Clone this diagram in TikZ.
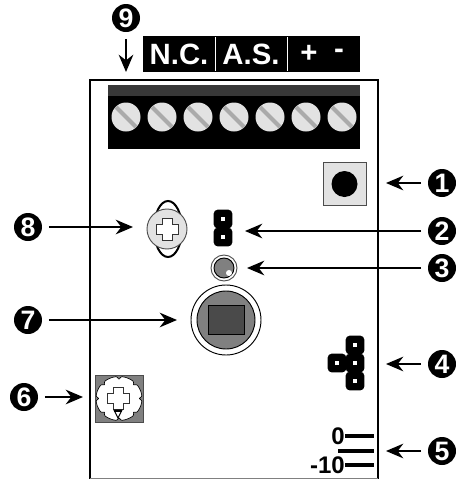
\documentclass[tikz,border=0pt]{standalone}
\usepackage{xcolor}
\usepackage{fontspec}
\setmainfont{Liberation Sans}
\usetikzlibrary{arrows.meta}
\definecolor{screwgray}{RGB}{226,226,226}
\definecolor{slotgray}{RGB}{170,170,170}
\definecolor{stripgray}{RGB}{56,56,56}
\definecolor{lensgray}{RGB}{128,128,128}
\definecolor{sensorgray}{RGB}{74,74,74}
\tikzset{
  badge/.style={circle,fill=black,text=white,inner sep=0pt,minimum size=21pt,font=\fontsize{20}{20}\selectfont\bfseries},
  tagtext/.style={text=white,inner sep=0pt,font=\fontsize{22}{22}\selectfont\bfseries},
  scaletext/.style={inner sep=0pt,anchor=east,font=\fontsize{18}{18}\selectfont\bfseries},
  pinblock/.style={fill=black,rounded corners=3pt,inner sep=0pt,minimum size=14pt},
  callout/.style={-{Stealth[length=13pt,width=11pt]},line width=1pt,shorten <=5pt},
  plusmark/.pic={\draw[fill=white,line width=0.7pt,draw=black!80]
    (-5,-11) -- (5,-11) -- (5,-5) -- (11,-5) -- (11,5) -- (5,5) -- (5,11)
    -- (-5,11) -- (-5,5) -- (-11,5) -- (-11,-5) -- (-5,-5) -- cycle;}
}
\newcommand{\pinmark}{\textcolor{white}{\rule{3pt}{3pt}}}

\begin{document}
\begin{tikzpicture}[x=0.75pt,y=-0.75pt]
    \useasboundingbox (0,0) rectangle (455,479);
    % board outline, open at the bottom of the picture
    \draw[line width=2pt] (90,479) -- (90,80) -- (378,80) -- (378,479);
    \draw[gray,line width=0.6pt] (90,478) -- (378,478);
    % terminal tag
    \fill (143,36) rectangle (360,72);
    \draw[white,line width=0.6pt] (215,37) -- (215,71);
    \draw[white,line width=0.6pt] (287,37) -- (287,71);
    \node[tagtext] (tagnc) at (179,54) {N.C.};
    \node[tagtext] (tagas) at (251,54) {A.S.};
    \node[tagtext] (tagplus) at (309,54) {+};
    \node[tagtext] (tagminus) at (339,54) {-};
    % terminal block
    \fill (108,85) rectangle (360,149);
    \fill[stripgray] (108,85) rectangle (360,96);
    \foreach \x in {126,162,198,234,270,306,342}{
      \fill[screwgray] (\x,117) circle (14.5);
      \draw[slotgray,line width=3pt] (\x-10,117-10) -- (\x+10,117+10);}
    % reset button
    \draw[fill=screwgray,draw=black!70,line width=0.6pt] (323,162) rectangle (366,205);
    \fill (344.5,184) circle (13);
    % pot with lugs
    \draw[fill=white,line width=1.5pt] (168,229) ellipse (14 and 28);
    \draw[fill=screwgray,draw=black!70,line width=0.7pt] (167,229) circle (20);
    \pic at (167,229) {plusmark};
    % jumper
    \node[pinblock] (jpa) at (223,219) {\pinmark};
    \node[pinblock] (jpb) at (223,237) {\pinmark};
    % led
    \draw[fill=white,draw=black!70,line width=0.7pt] (224,268) circle (13);
    \draw[fill=lensgray,line width=0.7pt] (224,268) circle (10);
    \fill[white] (229,273) circle (3);
    % sensor
    \draw[line width=0.7pt] (226,320) circle (35);
    \draw[fill=lensgray,line width=0.7pt] (226,320) circle (29);
    \draw[fill=sensorgray,line width=0.7pt] (208,305) rectangle (244,334);
    % pin header
    \node[pinblock] (hda) at (355,345) {\pinmark};
    \node[pinblock] (hdb) at (355,363) {\pinmark};
    \node[pinblock] (hdc) at (355,381) {\pinmark};
    \node[pinblock] (hdd) at (337,363) {\pinmark};
    % level scale
    \draw[line width=2.6pt] (345,436) -- (374,436);
    \draw[line width=2.6pt] (338,451) -- (374,451);
    \draw[line width=2.6pt] (345,465) -- (374,465);
    \node[scaletext] (levelzero) at (345,436) {0};
    \node[scaletext] (levelten) at (345,465) {-10};
    % trimmer with notched wheel
    \fill[lensgray,draw=black!70,line width=0.6pt] (95,375) rectangle (143,422);
    \draw[fill=white,line width=0.5pt,domain=0:360,samples=361]
      plot ({119+(23-2.5*pow(0.5+0.5*cos(8*\x),12))*cos(\x)},{398.5+(22-2.5*pow(0.5+0.5*cos(8*\x),12))*sin(\x)}) -- cycle;
    \pic at (118,398) {plusmark};
    \draw[fill=white,line width=0.7pt] (114,410) -- (122,410) -- (118,418) -- cycle;
    \fill (114,410) rectangle (122,412);
    % numbered callouts
    \foreach \n/\x/\y in {1/442/183,2/442/231,3/442/268,4/442/364,5/442/451,
                          6/24/397,7/28/320,8/28/227,9/126/18}{
      \node[badge] (badge\n) at (\x,\y) {\n};}
    \coordinate (tipa) at (386,183);
    \coordinate (tipb) at (245,231);
    \coordinate (tipc) at (247,268);
    \coordinate (tipd) at (386,364);
    \coordinate (tipe) at (386,451);
    \coordinate (tipf) at (83,397);
    \coordinate (tipg) at (177,320);
    \coordinate (tiph) at (133,227);
    \coordinate (tipi) at (126,72);
    \draw[callout] (badge1) -- (tipa);
    \draw[callout] (badge2) -- (tipb);
    \draw[callout] (badge3) -- (tipc);
    \draw[callout] (badge4) -- (tipd);
    \draw[callout] (badge5) -- (tipe);
    \draw[callout] (badge6) -- (tipf);
    \draw[callout] (badge7) -- (tipg);
    \draw[callout] (badge8) -- (tiph);
    \draw[callout] (badge9) -- (tipi);
\end{tikzpicture}
\end{document}
